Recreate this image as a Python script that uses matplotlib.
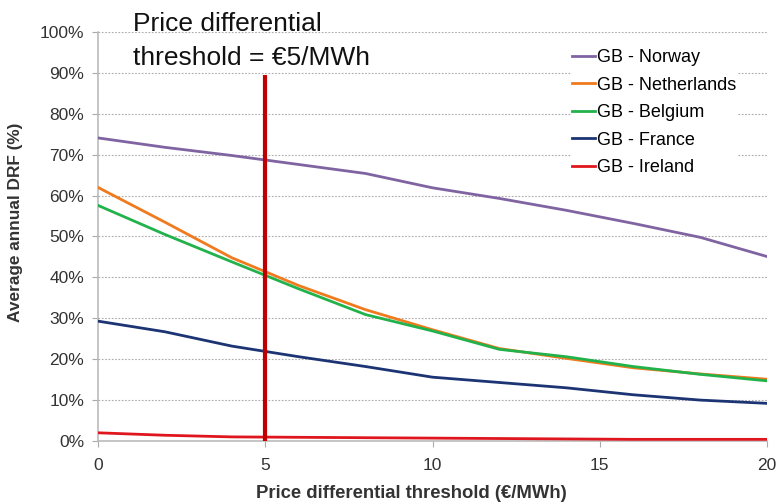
import matplotlib.pyplot as plt
from matplotlib.ticker import PercentFormatter

plt.rcParams['font.family'] = ['Liberation Sans', 'DejaVu Sans']

# seuil de différentiel de prix (€/MWh)
threshold = [0, 2, 4, 6, 8, 10, 12, 14, 16, 18, 20]

# DRF annuel moyen (%) par interconnexion
norway = [74.1, 71.8, 69.8, 67.6, 65.4, 61.9, 59.3, 56.4, 53.2, 49.8, 45.1]
netherlands = [62.0, 53.5, 44.8, 38.0, 32.1, 27.2, 22.6, 20.2, 17.9, 16.4, 15.1]
belgium = [57.6, 50.5, 43.8, 37.2, 30.9, 26.9, 22.4, 20.6, 18.2, 16.3, 14.7]
france = [29.3, 26.7, 23.2, 20.6, 18.2, 15.6, 14.3, 13.0, 11.3, 10.0, 9.2]
ireland = [2.0, 1.4, 1.0, 0.9, 0.8, 0.7, 0.6, 0.5, 0.4, 0.4, 0.4]

series = [
    ("GB - Norway", norway, "#8064A2"),
    ("GB - Netherlands", netherlands, "#F07A1E"),
    ("GB - Belgium", belgium, "#22B24C"),
    ("GB - France", france, "#1C3473"),
    ("GB - Ireland", ireland, "#E0161E"),
]

fig = plt.figure(figsize=(7.79, 5.03), dpi=100)
ax = fig.add_axes([0.1258, 0.1233, 0.8588, 0.8131])

for name, vals, col in series:
    ax.plot(threshold, vals, color=col, lw=2, label=name, zorder=3)

# seuil retenu : 5 €/MWh
ax.plot([5, 5], [0, 89.5], color="#C00000", lw=3, zorder=4, solid_capstyle="butt")

ax.set_xlim(0, 20)
ax.set_ylim(0, 100)
ax.set_xticks([0, 5, 10, 15, 20])
ax.set_yticks(range(0, 101, 10))
ax.yaxis.set_major_formatter(PercentFormatter(decimals=0))
ax.tick_params(labelsize=12.5, colors="#333333", length=4, color="#AAAAAA")
ax.tick_params(axis="x", pad=8)
ax.tick_params(axis="y", pad=6)
ax.grid(axis="y", linestyle=(0, (1.5, 1.5)), color="#AAAAAA", lw=0.8, zorder=0)
for s in ["top", "right"]:
    ax.spines[s].set_visible(False)
for s in ["left", "bottom"]:
    ax.spines[s].set_color("#BBBBBB")
    ax.spines[s].set_linewidth(1.2)

ax.set_xlabel("Price differential threshold (€/MWh)", fontsize=13.3,
              fontweight="bold", color="#333333")
ax.xaxis.set_label_coords(0.468, -0.107)
ax.set_ylabel("Average annual DRF (%)", fontsize=12.4,
              fontweight="bold", color="#333333")
ax.yaxis.set_label_coords(-0.112, 0.535)

fig.text(0.171, 0.976, "Price differential\nthreshold = €5/MWh", fontsize=19,
         va="top", ha="left", color="#111111", linespacing=1.5)

leg = ax.legend(loc="upper left", bbox_to_anchor=(0.7085, 0.958), frameon=True,
                fontsize=13, handlelength=1.3, handletextpad=0.1,
                labelspacing=0.58, borderpad=0.0, borderaxespad=0.0)
leg.get_frame().set_edgecolor("none")
leg.get_frame().set_facecolor("white")
leg.get_frame().set_alpha(1)

fig.savefig("out.png", dpi=100)
